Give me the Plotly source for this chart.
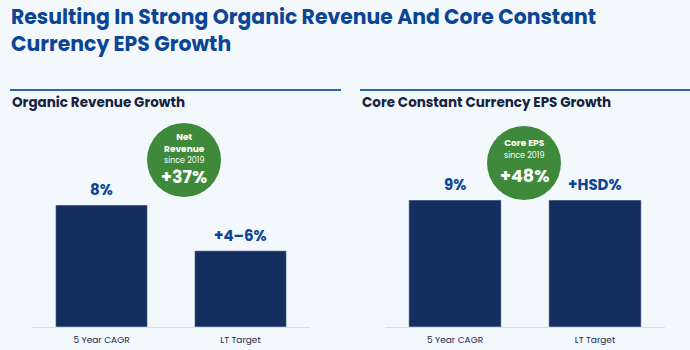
import plotly.graph_objects as go

W, H = 690, 350

categories = ["5 Year CAGR", "LT Target"]
rev_values = [8, 5]
rev_labels = ["8%", "+4–6%"]
eps_values = [9, 9]
eps_labels = ["9%", "+HSD%"]

title_lines = ["Resulting In Strong Organic Revenue And Core Constant", "Currency EPS Growth"]
panel_titles = ["Organic Revenue Growth", "Core Constant Currency EPS Growth"]

BG = "#f3f8fd"
NAVY = "#142f5f"
BLUE = "#0c4595"
GREEN = "#3e8a3a"
FONT = "Poppins, Inter, 'Open Sans', sans-serif"

def px(x):
    return x / W

def py(y):
    return 1 - y / H

fig = go.Figure()

fig.add_trace(go.Bar(x=categories, y=rev_values, marker_color=NAVY, width=0.66,
                     xaxis="x", yaxis="y", hoverinfo="skip"))
fig.add_trace(go.Bar(x=categories, y=eps_values, marker_color=NAVY, width=0.66,
                     xaxis="x2", yaxis="y2", hoverinfo="skip"))

annotations = []
for xa, vals, labs in (("x", rev_values, rev_labels), ("x2", eps_values, eps_labels)):
    ya = "y" if xa == "x" else "y2"
    for c, v, l in zip(categories, vals, labs):
        annotations.append(dict(x=c, y=v, xref=xa, yref=ya, text=f"<b>{l}</b>",
                                showarrow=False, yanchor="bottom", yshift=3,
                                font=dict(family=FONT, size=15, color=BLUE)))

# main title (one block, two lines)
annotations.append(dict(x=px(10), y=py(30.5), xref="paper", yref="paper",
                        text="<br>".join(f"<b>{t}</b>" for t in title_lines),
                        showarrow=False, xanchor="left", align="left", borderpad=0,
                        yanchor="middle", font=dict(family=FONT, size=20.4, color=BLUE)))
# panel titles
for x0, t in zip((10, 360), panel_titles):
    annotations.append(dict(x=px(x0), y=py(103), xref="paper", yref="paper",
                            text=f"<b>{t}</b>", showarrow=False, xanchor="left",
                            yanchor="middle", font=dict(family=FONT, size=13.5, color="#16223f")))

shapes = [
    dict(type="line", xref="paper", yref="paper", x0=px(10), x1=px(341), y0=py(90), y1=py(90),
         line=dict(color="#2d64ad", width=2)),
    dict(type="line", xref="paper", yref="paper", x0=px(360), x1=px(690), y0=py(90), y1=py(90),
         line=dict(color="#2d64ad", width=2)),
]

S = "<span style='font-size:8px'>since 2019</span>"
R = 37
for cx, cy, small, small_y, big, big_y in (
    (184, 160, "<b>Net</b><br><b>Revenue</b><br>" + S, 148, "<b>+37%</b>", 177),
    (524, 163, "<b>Core EPS</b><br>" + S, 149, "<b>+48%</b>", 175.5),
):
    shapes.append(dict(type="circle", xref="paper", yref="paper",
                       x0=px(cx - R), x1=px(cx + R), y0=py(cy + R), y1=py(cy - R),
                       fillcolor=GREEN, line=dict(width=0), layer="above"))
    annotations.append(dict(x=px(cx), y=py(small_y), xref="paper", yref="paper", text=small,
                            showarrow=False, xanchor="center", yanchor="middle", borderpad=0,
                            font=dict(family=FONT, size=9, color="white")))
    annotations.append(dict(x=px(cx), y=py(big_y), xref="paper", yref="paper", text=big,
                            showarrow=False, xanchor="center", yanchor="middle", borderpad=0,
                            font=dict(family=FONT, size=17.5, color="white")))

axis_common = dict(showgrid=False, zeroline=False, showline=True, linecolor="#d8dde4",
                   linewidth=1, ticks="outside", ticklen=4, tickcolor="rgba(0,0,0,0)",
                   tickfont=dict(family=FONT, size=9, color="#1c2a4a"),
                   fixedrange=True)
yaxis_common = dict(showgrid=False, zeroline=False, showline=False, showticklabels=False,
                    fixedrange=True)

fig.update_layout(
    width=W, height=H,
    margin=dict(l=0, r=0, t=0, b=0),
    paper_bgcolor=BG, plot_bgcolor=BG,
    showlegend=False,
    bargap=0.34,
    xaxis=dict(domain=[px(32), px(310)], anchor="y", **axis_common),
    yaxis=dict(domain=[py(327), py(130)], range=[0, 197 / 15.25], anchor="x", **yaxis_common),
    xaxis2=dict(domain=[px(385), px(665)], anchor="y2", **axis_common),
    yaxis2=dict(domain=[py(327), py(130)], range=[0, 197 / 14.11], anchor="x2", **yaxis_common),
    annotations=annotations,
    shapes=shapes,
)

fig.write_html("out.html")
